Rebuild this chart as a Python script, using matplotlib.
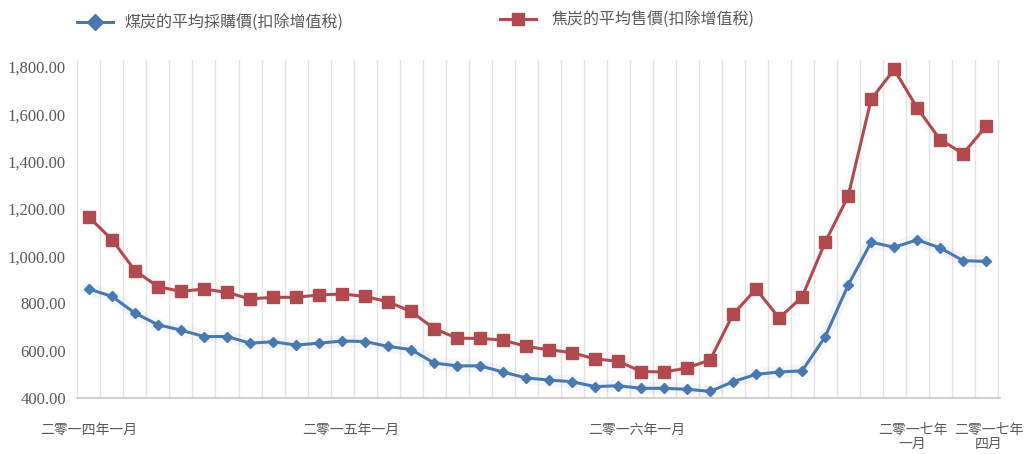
import matplotlib
matplotlib.use("Agg")
import matplotlib.pyplot as plt
from matplotlib.lines import Line2D
from matplotlib.ticker import FuncFormatter

# ---- data ----
months = list(range(40))  # 2014-01 .. 2017-04
coal_price = [861, 830, 759, 710, 687, 660, 660, 632, 638, 624, 632, 641,
              639, 618, 605, 548, 536, 536, 510, 485, 476, 469, 448, 452,
              441, 441, 437, 428, 469, 500, 510, 515, 659, 878, 1059, 1038,
              1069, 1035, 981, 978]
coke_price = [1165, 1070, 939, 871, 851, 861, 847, 819, 826, 826, 836, 840,
              830, 807, 766, 694, 653, 652, 645, 618, 604, 592, 565, 556,
              512, 510, 527, 561, 755, 861, 738, 828, 1059, 1254, 1664, 1790,
              1627, 1493, 1434, 1550]
series_names = ["煤炭的平均採購價(扣除增值稅)", "焦炭的平均售價(扣除增值稅)"]
x_tick_pos = [0, 11.4, 23.8, 35.8, 39.1]
x_tick_labels = ["二零一四年一月", "二零一五年一月", "二零一六年一月",
                 "二零一七年\n一月", "二零一七年\n四月"]
y_ticks = [400, 600, 800, 1000, 1200, 1400, 1600, 1800]

BLUE = "#4a78b0"
RED = "#b04a4e"
TXT = "#595959"
CJK = ["Noto Sans CJK TC", "DejaVu Sans"]
SERIF = ["Liberation Serif", "DejaVu Serif"]

fig = plt.figure(figsize=(10.26, 4.54), dpi=100)
ax = fig.add_axes([77/1026, 1-398/454, (1000-77)/1026, (398-60)/454])

# vertical grid lines at category boundaries
for b in range(len(months) + 1):
    ax.axvline(b - 0.5, color="#e8e2e2", lw=1.0, zorder=0)

# soft glow
ax.plot(months, coal_price, color=BLUE, lw=9, alpha=0.06, zorder=1, solid_capstyle="round")
ax.plot(months, coke_price, color="#c0d8f0", lw=9, alpha=0.08, zorder=1, solid_capstyle="round")

ax.plot(months, coal_price, color=BLUE, lw=2.2, marker="D", ms=5.5,
        mfc=BLUE, mec=BLUE, zorder=3)
ax.plot(months, coke_price, color=RED, lw=2.2, marker="s", ms=8.5,
        mfc=RED, mec=RED, zorder=3)

ax.set_xlim(-0.52, 39.6)
ax.set_ylim(400, 1830)
ax.set_yticks(y_ticks)
ax.yaxis.set_major_formatter(FuncFormatter(lambda v, p: f"{v:,.2f}"))
for lab in ax.get_yticklabels():
    lab.set_fontfamily(SERIF)
    lab.set_fontsize(12)
    lab.set_color(TXT)
ax.tick_params(axis="y", length=0, pad=8)

ax.set_xticks(x_tick_pos)
ax.set_xticklabels(x_tick_labels, family=CJK, fontsize=10, color=TXT,
                   linespacing=1.0)
ax.tick_params(axis="x", length=0, pad=18)

for s in ["left", "right", "top"]:
    ax.spines[s].set_visible(False)
ax.spines["bottom"].set_color("#c8c8c8")
ax.spines["bottom"].set_linewidth(1.2)

# legend (manual)
def leg(x0, x1, y, color, marker, ms, text, tx):
    fy = 1 - y/454
    fig.add_artist(Line2D([x0/1026, x1/1026], [fy, fy], color=color, lw=2.2,
                          transform=fig.transFigure))
    fig.add_artist(Line2D([(x0+x1)/2/1026], [fy], color=color, marker=marker,
                          ms=ms, mfc=color, mec=color, transform=fig.transFigure))
    fig.text(tx/1026, fy, text, family=CJK, fontsize=11.5, color=TXT,
             va="center", ha="left")

leg(77, 113, 22, BLUE, "D", 8, series_names[0], 124)
leg(500, 536, 19, RED, "s", 9, series_names[1], 551)

fig.savefig("out.png", dpi=100)
